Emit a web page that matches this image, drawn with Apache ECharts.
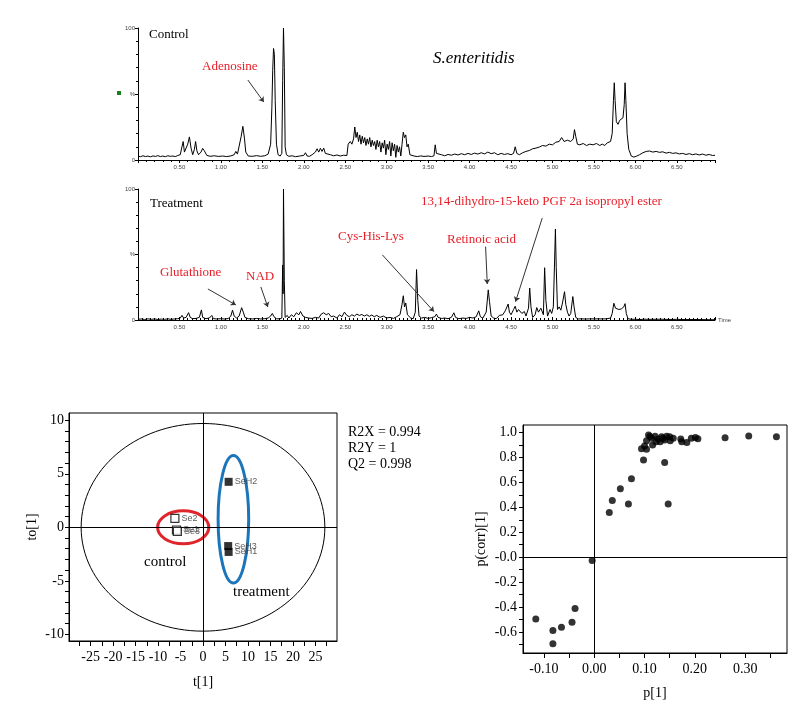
<!DOCTYPE html>
<html><head><meta charset="utf-8">
<script src="https://cdn.jsdelivr.net/npm/echarts@6/dist/echarts.min.js"></script>
<style>html,body{margin:0;padding:0;background:#fff}#c{width:801px;height:710px}</style>
</head><body><div id="c"></div><script>
// ---------- DATA ----------
// Control chromatogram: [retention time (min), relative intensity %]
var controlTrace = [
[0.00,3],[0.03,2.5],[0.06,3.2],[0.09,2.6],[0.12,3],[0.15,2.4],[0.18,3.1],[0.21,2.7],[0.24,3.3],[0.27,2.6],
[0.30,3],[0.33,2.5],[0.36,3.2],[0.39,2.8],[0.42,3],[0.45,2.6],[0.48,3.4],[0.51,4],[0.53,10],[0.545,14],
[0.56,6],[0.58,5],[0.60,12],[0.62,17.5],[0.64,9],[0.66,4],[0.68,8],[0.695,14],[0.71,7],[0.73,4],
[0.76,6],[0.78,8.8],[0.80,7],[0.83,3.5],[0.87,2.8],[0.92,3.2],[0.97,2.7],[1.02,3],[1.07,2.6],[1.12,3.1],
[1.16,4],[1.18,6.5],[1.20,4.5],[1.22,6],[1.245,18],[1.265,25.5],[1.285,16],[1.30,6],[1.33,3],[1.38,2.8],
[1.43,3.3],[1.48,2.8],[1.53,3.2],[1.57,4.5],[1.60,12],[1.615,40],[1.625,68],[1.635,84.5],[1.645,80],[1.655,45],
[1.67,12],[1.69,4],[1.715,3],[1.735,5],[1.745,60],[1.755,100],[1.765,70],[1.775,10],[1.79,4],[1.82,2.8],
[1.86,3.2],[1.90,2.5],[1.95,3],[2.00,3.5],[2.02,5.5],[2.04,3],[2.07,2.8],[2.10,4],[2.12,3.2],[2.14,6],
[2.16,8.5],[2.18,6],[2.20,8.8],[2.22,6.5],[2.24,9],[2.26,5],[2.28,3.5],[2.32,4],[2.36,3.2],[2.40,3.8],
[2.44,3],[2.48,3.6],[2.52,3.4],[2.535,12],[2.56,14],[2.58,12],[2.60,16],[2.615,25],[2.63,17],[2.645,21],
[2.66,14],[2.675,19],[2.69,12],[2.705,18],[2.72,13],[2.735,17],[2.75,11],[2.765,16],[2.78,12],[2.795,17],
[2.81,10],[2.825,15],[2.84,11],[2.855,14],[2.87,8],[2.885,15],[2.90,10],[2.915,14],[2.93,6],[2.945,13],
[2.96,9],[2.975,15],[2.99,4],[3.005,12],[3.02,8],[3.035,14],[3.05,3],[3.065,13],[3.08,7],[3.095,12],
[3.11,2],[3.125,11],[3.14,6],[3.155,10],[3.17,3],[3.185,12],[3.20,21],[3.215,17],[3.23,19],[3.245,10],
[3.26,12],[3.28,4],[3.30,2.5],[3.33,3],[3.37,2.6],[3.41,3.1],[3.45,2.7],[3.50,3],[3.54,2.6],[3.57,3.2],
[3.585,11.5],[3.60,5],[3.62,3.5],[3.66,4],[3.70,3.2],[3.74,4.2],[3.78,3.6],[3.82,4.5],[3.86,3.8],[3.90,4.8],
[3.94,4],[3.98,5],[4.02,4.2],[4.06,5.2],[4.10,4.5],[4.14,5.5],[4.18,4.6],[4.22,6],[4.26,4.8],[4.30,5.5],
[4.34,4],[4.38,5],[4.42,4.2],[4.46,4.8],[4.50,4],[4.53,5],[4.55,10],[4.57,5],[4.60,4],[4.64,5.5],
[4.68,6.5],[4.72,7.2],[4.76,8.5],[4.80,9],[4.84,9.8],[4.88,11],[4.92,10.5],[4.96,12],[5.00,11.5],[5.04,13.5],
[5.08,14],[5.11,17],[5.14,14],[5.18,15],[5.22,14],[5.25,16],[5.265,23],[5.28,18],[5.30,12],[5.33,11.5],
[5.37,12.5],[5.41,11],[5.45,12],[5.49,11.5],[5.53,12.5],[5.57,11],[5.60,12],[5.63,11],[5.66,13],[5.70,14],
[5.72,20],[5.735,45],[5.745,58.5],[5.755,45],[5.77,29],[5.79,27],[5.81,30],[5.83,31],[5.85,32],[5.865,42],
[5.875,58.5],[5.885,45],[5.90,20],[5.92,8],[5.95,3],[5.98,2.2],[6.01,2.8],[6.05,4],[6.09,5.5],[6.13,6.5],
[6.17,6.8],[6.21,6],[6.25,6.5],[6.29,5.8],[6.33,6.2],[6.37,5.2],[6.41,5.8],[6.45,5],[6.49,5.4],[6.53,4.6],
[6.57,5],[6.61,4.2],[6.65,4.8],[6.69,4],[6.73,4.6],[6.77,3.8],[6.81,4.5],[6.85,3.6],[6.89,4.2],[6.93,3.4],[6.96,3.6]
];
// Treatment chromatogram
var treatmentTrace = [
[0.00,0.5],[0.04,0.8],[0.08,0.4],[0.12,0.9],[0.16,0.5],[0.20,0.8],[0.24,0.4],[0.28,0.7],[0.32,0.5],[0.36,0.9],
[0.40,0.5],[0.44,0.8],[0.48,1],[0.51,1.5],[0.53,3.5],[0.55,1.5],[0.58,2],[0.61,5.6],[0.63,2],[0.66,1],
[0.70,1.2],[0.74,2],[0.765,7.7],[0.78,2],[0.82,1],[0.86,1.5],[0.89,3.5],[0.91,1],[0.95,0.8],[1.00,1],
[1.05,0.7],[1.09,1.2],[1.12,3],[1.14,7.5],[1.16,3],[1.19,1.5],[1.22,3],[1.25,9.4],[1.27,6],[1.29,2],
[1.33,1],[1.38,0.8],[1.43,1.2],[1.48,0.8],[1.53,1],[1.57,1.5],[1.60,3],[1.62,5],[1.64,2.5],[1.67,1],
[1.71,0.8],[1.735,1.5],[1.745,42],[1.75,20],[1.755,100],[1.765,30],[1.775,2],[1.80,3.5],[1.82,1.5],[1.85,4],
[1.88,2.5],[1.91,5.5],[1.94,4],[1.96,6.5],[1.99,3],[2.02,2],[2.06,1.5],[2.10,1.2],[2.14,2],[2.18,1.5],
[2.21,4.5],[2.24,5.5],[2.27,4],[2.30,5],[2.33,2.5],[2.36,3],[2.40,1.5],[2.43,4],[2.46,2.5],[2.49,6],
[2.52,3.5],[2.55,2.5],[2.58,4],[2.61,3],[2.64,4.5],[2.67,3.5],[2.70,4.2],[2.73,3],[2.76,4],[2.79,2.8],
[2.82,3.8],[2.85,2.5],[2.88,3.5],[2.92,2],[2.96,3],[3.00,1.5],[3.04,2],[3.08,1.2],[3.12,2.5],[3.16,4],
[3.185,12],[3.20,18.5],[3.215,10],[3.23,13],[3.25,4],[3.27,5],[3.29,1.5],[3.32,1],[3.345,6],[3.36,38.5],
[3.375,15],[3.39,3],[3.42,1.5],[3.46,2],[3.50,1.2],[3.54,1.8],[3.58,2.5],[3.60,4.5],[3.62,2],[3.66,1.2],
[3.70,1.5],[3.74,1],[3.78,2],[3.81,5.5],[3.83,2],[3.87,1],[3.92,1.5],[3.96,1.2],[4.00,2],[4.04,1.5],
[4.08,2.5],[4.11,7],[4.13,2.5],[4.16,1.5],[4.20,6],[4.225,23],[4.24,14],[4.26,3],[4.29,1.5],[4.32,1],
[4.36,3.5],[4.40,4],[4.43,7],[4.465,12.2],[4.48,6],[4.50,4],[4.53,8],[4.55,10.5],[4.57,6],[4.59,8],
[4.61,9.5],[4.63,5],[4.66,6.5],[4.68,3],[4.71,9],[4.725,24.4],[4.74,10],[4.76,2],[4.79,4],[4.81,9.5],
[4.83,6],[4.86,9],[4.89,4],[4.905,39.9],[4.92,15],[4.94,3],[4.97,8],[4.99,5],[5.01,10],[5.025,45],
[5.035,69.4],[5.045,40],[5.06,8],[5.08,10],[5.10,7.5],[5.12,13],[5.145,21.6],[5.16,12],[5.18,6],[5.20,3],
[5.22,5],[5.245,17.9],[5.26,10],[5.28,2],[5.31,0.8],[5.35,0.9],[5.40,0.7],[5.45,0.9],[5.50,0.8],[5.55,0.9],
[5.60,0.8],[5.65,0.9],[5.70,1.5],[5.72,5],[5.74,12.8],[5.76,9],[5.78,7.5],[5.80,8],[5.83,8.5],[5.86,10],
[5.875,12.5],[5.89,5],[5.91,1],[5.95,0.5],[6.00,0.6],[6.05,0.3],[6.10,0.6],[6.20,0.5],[6.30,0.6],[6.40,0.4],
[6.50,0.5],[6.60,0.3],[6.70,0.4],[6.80,0.3],[6.90,0.2],[6.96,0.2]
];
// Annotated compounds: [name, label anchor (time,int), arrow tip (time,int)]
var controlNotes = [['Adenosine', 1.325, 60.6, 1.518, 43.9]];
var treatmentNotes = [
  ['Glutathione', 0.843, 23.7, 1.18, 11.5],
  ['NAD', 1.482, 25.2, 1.566, 9.9],
  ['Cys-His-Lys', 2.948, 49.7, 3.57, 6.4],
  ['Retinoic acid', 4.193, 56, 4.213, 27.5],
  ['13,14-dihydro-15-keto PGF 2a isopropyl ester', 4.876, 77.8, 4.554, 14]
];
// OPLS-DA score plot
var controlSamples = [['Se2', -6.25, 0.84], ['Se1', -5.9, -0.25], ['Se3', -5.7, -0.38]];
var treatmentSamples = [['SeH2', 5.7, 4.25], ['SeH3', 5.6, -1.75], ['SeH1', 5.7, -2.3]];
var scoreXLabels = [-25,-20,-15,-10,-5,0,5,10,15,20,25];
var scoreXTicks = [-27.5,-25,-22.5,-20,-17.5,-15,-12.5,-10,-7.5,-5,-2.5,0,2.5,5,7.5,10,12.5,15,17.5,20,22.5,25,27.5];
var scoreYLabels = [-10,-5,0,5,10];
var scoreYTicks = [-10,-9,-8,-7,-6,-5,-4,-3,-2,-1,0,1,2,3,4,5,6,7,8,9,10];
var modelStats = ['R2X = 0.994', 'R2Y = 1', 'Q2 = 0.998'];
// S-plot
var sPlotP = [-0.116,-0.082,-0.082,-0.065,-0.044,-0.038,-0.004,0.030,0.036,0.052,0.068,0.074,0.098,0.094,0.100,0.104,0.104,0.108,0.114,0.116,0.121,0.127,0.134,0.131,0.140,0.144,0.140,0.147,0.151,0.150,0.157,0.172,0.174,0.184,0.193,0.201,0.206,0.260,0.307,0.362,0.123,0.111,0.137];
var sPlotCorr = [-0.497,-0.589,-0.695,-0.564,-0.524,-0.412,-0.027,0.358,0.454,0.550,0.427,0.630,0.780,0.871,0.893,0.866,0.935,0.981,0.954,0.900,0.970,0.948,0.967,0.927,0.940,0.970,0.759,0.427,0.935,0.967,0.954,0.948,0.927,0.920,0.954,0.960,0.950,0.959,0.973,0.967,0.927,0.968,0.955];
var sXLabels = [-0.1,0,0.1,0.2,0.3];
var sXTicks = [-0.1,-0.05,0,0.05,0.1,0.15,0.2,0.25,0.3,0.35];
var sYLabels = [-0.6,-0.4,-0.2,0,0.2,0.4,0.6,0.8,1.0];
var sYTicks = [-0.7,-0.6,-0.5,-0.4,-0.3,-0.2,-0.1,0,0.1,0.2,0.3,0.4,0.5,0.6,0.7,0.8,0.9,1.0];

// ---------- CHART ----------
var SERIF = 'Liberation Serif, Times New Roman, serif';
var SANS = 'Liberation Sans, Arial, sans-serif';
var RED = '#e8202a';
var chart = echarts.init(document.getElementById('c'), null, {renderer: 'canvas'});

function chromX(idx, bottom) {
  return {
    type: 'value', gridIndex: idx, min: 0, max: 6.96, interval: 0.5,
    axisLine: {show: true, onZero: false, lineStyle: {color: '#000', width: 1}},
    axisTick: {show: true, length: 3, inside: bottom, lineStyle: {color: '#000'}},
    minorTick: {show: true, splitNumber: bottom ? 10 : 5, length: 2, lineStyle: {color: '#000'}},
    splitLine: {show: false},
    axisLabel: {fontSize: 6, fontFamily: SANS, color: '#444', margin: 4,
      formatter: function (v) { var r = Math.round(v * 2) / 2; return (v > 0 && Math.abs(v - r) < 1e-6) ? v.toFixed(2) : ''; }},
    name: bottom ? 'Time' : '', nameLocation: 'end', nameGap: 3,
    nameTextStyle: {fontSize: 6, fontFamily: SANS, color: '#444', verticalAlign: 'middle'}
  };
}
function chromY(idx) {
  return {
    type: 'value', gridIndex: idx, min: 0, max: 100, interval: 50,
    axisLine: {show: true, lineStyle: {color: '#000', width: 1}},
    axisTick: {show: true, length: 3, lineStyle: {color: '#000'}},
    minorTick: {show: true, splitNumber: 5, length: 2, lineStyle: {color: '#000'}},
    splitLine: {show: false},
    axisLabel: {fontSize: 6, fontFamily: SANS, color: '#444', margin: 3,
      formatter: function (v) { return v === 50 ? '%' : String(v); }}
  };
}
function notesMarkLine(notes) {
  return {
    silent: true, symbol: ['none', 'arrow'], symbolSize: 5, animation: false,
    label: {show: false}, lineStyle: {color: '#333', width: 1, type: 'solid'},
    data: notes.map(function (n) { return [{coord: [n[1], n[2]]}, {coord: [n[3], n[4]]}]; })
  };
}
function boxAxisStyle() {
  return {
    axisLine: {show: true, onZero: false, lineStyle: {color: '#000', width: 1}},
    splitLine: {show: false}
  };
}
var zeroLines = {
  silent: true, symbol: 'none', animation: false, label: {show: false},
  lineStyle: {color: '#000', width: 1, type: 'solid'},
  data: [{xAxis: 0}, {yAxis: 0}]
};

var option = {
  animation: false,
  backgroundColor: '#fff',
  grid: [
    {left: 138, top: 28, width: 577, height: 132},
    {left: 138, top: 189, width: 577, height: 131},
    {left: 69, top: 413, width: 268, height: 228, show: true, borderColor: '#000', borderWidth: 1},
    {left: 523, top: 425, width: 264, height: 228, show: true, borderColor: '#000', borderWidth: 1}
  ],
  xAxis: [
    chromX(0, false), chromX(1, true),
    Object.assign({type: 'value', gridIndex: 2, min: -29.8, max: 29.8,
      axisTick: {show: true, length: 5, customValues: scoreXTicks, lineStyle: {color: '#000'}},
      axisLabel: {customValues: scoreXLabels, fontSize: 14, fontFamily: SERIF, color: '#000', margin: 9},
      name: 't[1]', nameLocation: 'middle', nameGap: 34,
      nameTextStyle: {fontSize: 14, fontFamily: SERIF, color: '#000'}}, boxAxisStyle()),
    Object.assign({type: 'value', gridIndex: 3, min: -0.1414, max: 0.383,
      axisTick: {show: true, length: 5, customValues: sXTicks, lineStyle: {color: '#000'}},
      axisLabel: {customValues: sXLabels, fontSize: 14, fontFamily: SERIF, color: '#000', margin: 9,
        formatter: function (v) { return v.toFixed(2); }},
      name: 'p[1]', nameLocation: 'middle', nameGap: 33,
      nameTextStyle: {fontSize: 14, fontFamily: SERIF, color: '#000'}}, boxAxisStyle())
  ],
  yAxis: [
    chromY(0), chromY(1),
    Object.assign({type: 'value', gridIndex: 2, min: -10.62, max: 10.68,
      axisTick: {show: true, length: 4, customValues: scoreYTicks, lineStyle: {color: '#000'}},
      axisLabel: {customValues: scoreYLabels, fontSize: 14, fontFamily: SERIF, color: '#000', margin: 5},
      name: 'to[1]', nameLocation: 'middle', nameGap: 30,
      nameTextStyle: {fontSize: 14, fontFamily: SERIF, color: '#000'}}, boxAxisStyle()),
    Object.assign({type: 'value', gridIndex: 3, min: -0.77, max: 1.061,
      axisTick: {show: true, length: 4, customValues: sYTicks, lineStyle: {color: '#000'}},
      axisLabel: {customValues: sYLabels, fontSize: 14, fontFamily: SERIF, color: '#000', margin: 6,
        formatter: function (v) { return Math.abs(v) < 1e-9 ? '-0.0' : v.toFixed(1); }},
      name: 'p(corr)[1]', nameLocation: 'middle', nameGap: 35,
      nameTextStyle: {fontSize: 14, fontFamily: SERIF, color: '#000'}}, boxAxisStyle())
  ],
  series: [
    {type: 'line', xAxisIndex: 0, yAxisIndex: 0, data: controlTrace, showSymbol: false, symbol: 'none',
      lineStyle: {color: '#000', width: 1}, markLine: notesMarkLine(controlNotes), silent: true},
    {type: 'line', xAxisIndex: 1, yAxisIndex: 1, data: treatmentTrace, showSymbol: false, symbol: 'none',
      lineStyle: {color: '#000', width: 1}, markLine: notesMarkLine(treatmentNotes), silent: true},
    {type: 'scatter', xAxisIndex: 2, yAxisIndex: 2, symbol: 'rect', symbolSize: 8,
      itemStyle: {color: '#fff', borderColor: '#000', borderWidth: 1.2},
      data: controlSamples.map(function (s) { return {name: s[0], value: [s[1], s[2]]}; }),
      label: {show: true, position: 'right', distance: 2, formatter: '{b}', fontSize: 9, fontFamily: SANS, color: '#333'},
      markLine: zeroLines, z: 5},
    {type: 'scatter', xAxisIndex: 2, yAxisIndex: 2, symbol: 'rect', symbolSize: 8,
      itemStyle: {color: '#000'},
      data: treatmentSamples.map(function (s) { return {name: s[0], value: [s[1], s[2]]}; }),
      label: {show: true, position: 'right', distance: 2, formatter: '{b}', fontSize: 9, fontFamily: SANS, color: '#333'}, z: 5},
    {type: 'scatter', xAxisIndex: 3, yAxisIndex: 3, symbol: 'circle', symbolSize: 7,
      itemStyle: {color: '#000'},
      data: sPlotP.map(function (p, i) { return [p, sPlotCorr[i]]; }),
      markLine: zeroLines}
  ]
};
chart.setOption(option);

// ellipses (Hotelling T2 and group outlines) in score-plot data units, converted via the axes
var scoreEllipses = [
  {c: [0, 0], r: [27.1, 9.7], color: '#000', w: 1},
  {c: [-4.4, 0], r: [5.7, 1.54], color: '#e0242b', w: 3},
  {c: [6.76, 0.75], r: [3.4, 5.95], color: '#1b75bb', w: 3}
];
var graphics = [];
scoreEllipses.forEach(function (e) {
  var c = chart.convertToPixel({gridIndex: 2}, e.c);
  var px = chart.convertToPixel({gridIndex: 2}, [e.c[0] + e.r[0], e.c[1] + e.r[1]]);
  graphics.push({type: 'ellipse', z: 3, silent: true,
    shape: {cx: c[0], cy: c[1], rx: Math.abs(px[0] - c[0]), ry: Math.abs(px[1] - c[1])},
    style: {fill: 'none', stroke: e.color, lineWidth: e.w}});
});
function txt(t, x, y, size, color, extra) {
  var o = {type: 'text', x: x, y: y, z: 10, silent: true,
    style: {text: t, fontSize: size, fontFamily: SERIF, fill: color || '#000', textVerticalAlign: 'middle'}};
  if (extra) Object.assign(o.style, extra);
  return o;
}
graphics.push(txt('Control', 149, 35, 13));
graphics.push(txt('S.enteritidis', 433, 59, 17, '#000', {fontStyle: 'italic'}));
graphics.push(txt(controlNotes[0][0], 202, 67, 13, RED));
graphics.push({type: 'rect', shape: {x: 117, y: 91, width: 4, height: 4}, style: {fill: '#1b7d1b'}, silent: true});
graphics.push(txt('Treatment', 150, 204, 13));
graphics.push(txt(treatmentNotes[4][0], 421, 202, 13, RED));
graphics.push(txt(treatmentNotes[2][0], 338, 237, 13, RED));
graphics.push(txt(treatmentNotes[3][0], 447, 240, 13, RED));
graphics.push(txt(treatmentNotes[0][0], 160, 273, 13, RED));
graphics.push(txt(treatmentNotes[1][0], 246, 277, 13, RED));
graphics.push(txt('control', 144, 562, 15));
graphics.push(txt('treatment', 233, 592, 15));
modelStats.forEach(function (s, i) { graphics.push(txt(s, 348, 432 + i * 16, 14)); });
chart.setOption({graphic: graphics});
</script></body></html>
